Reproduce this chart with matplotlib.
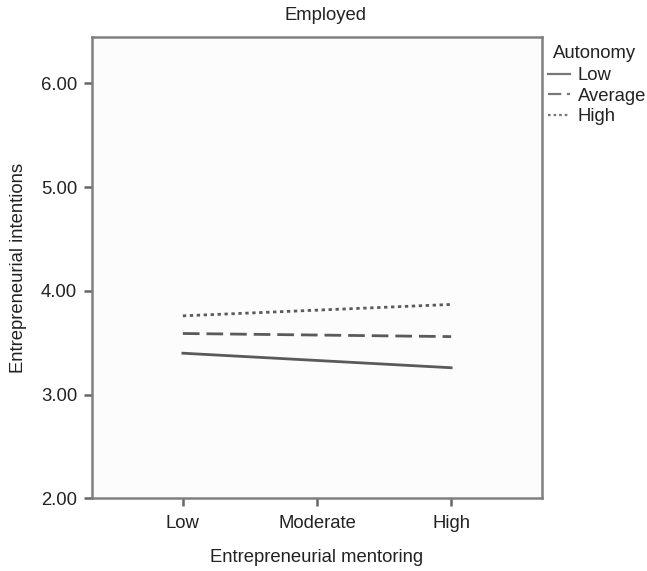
import matplotlib
matplotlib.use("Agg")
import matplotlib.pyplot as plt

plt.rcParams['font.family'] = ['Liberation Sans', 'DejaVu Sans']

# Simple-slopes data: entrepreneurial intentions by mentoring level
mentoring_levels = ["Low", "Moderate", "High"]
autonomy_groups = ["Low", "Average", "High"]
intent_low_autonomy = [3.40, 3.33, 3.26]
intent_avg_autonomy = [3.59, 3.575, 3.56]
intent_high_autonomy = [3.76, 3.815, 3.87]
y_ticks = [2.0, 3.0, 4.0, 5.0, 6.0]

series = [intent_low_autonomy, intent_avg_autonomy, intent_high_autonomy]
styles = ["-", (0, (6, 2.5)), (0, (1.2, 1.3))]

line_color = "#5a5a5a"
spine_color = "#808080"
text_color = "#222222"
fs = 13.3

W, H = 647, 571
fig = plt.figure(figsize=(W / 100, H / 100), dpi=100)
ax = fig.add_axes([0.1427, 0.1270, 0.6945, 0.8087])
ax.set_facecolor("#fcfcfc")

x = list(range(len(mentoring_levels)))
handles = []
for vals, ls, lab in zip(series, styles, autonomy_groups):
    h, = ax.plot(x, vals, linestyle=ls, color=line_color, linewidth=2.0, label=lab)
    handles.append(h)

ax.set_xlim(-0.675, 2.675)
ax.set_ylim(2.0, 6.45)
ax.set_xticks(x)
ax.set_xticklabels(mentoring_levels)
ax.set_yticks(y_ticks)
ax.set_yticklabels([f"{v:.2f}" for v in y_ticks])

for s in ax.spines.values():
    s.set_color(spine_color)
    s.set_linewidth(1.8)

ax.tick_params(axis="both", direction="out", length=6, width=1.8, color="#666666",
               labelsize=fs, labelcolor=text_color)
ax.tick_params(axis="y", pad=5)
ax.tick_params(axis="x", pad=6)

ax.set_xlabel("Entrepreneurial mentoring", fontsize=fs, color=text_color, labelpad=12)
ax.set_ylabel("Entrepreneurial intentions", fontsize=fs, color=text_color, labelpad=10)
fig.text(326 / W, 1 - 15 / H, "Employed", ha="center", va="center", fontsize=fs, color=text_color)

# Legend title placed as its own text, slightly indented from the handles
fig.text(553 / W, 1 - 53 / H, "Autonomy", ha="left", va="center", fontsize=fs, color=text_color)
leg = ax.legend(handles=handles, loc="upper left",
                bbox_to_anchor=(548 / W, 1 - 67 / H), bbox_transform=fig.transFigure,
                frameon=False, fontsize=fs, handlelength=1.2,
                handletextpad=0.42, labelspacing=0.2, borderpad=0, borderaxespad=0)
for t in leg.get_texts():
    t.set_color(text_color)
for lh in leg.get_lines():
    lh.set_linewidth(1.6)
    lh.set_color("#777777")

fig.savefig("out.png", dpi=100)
